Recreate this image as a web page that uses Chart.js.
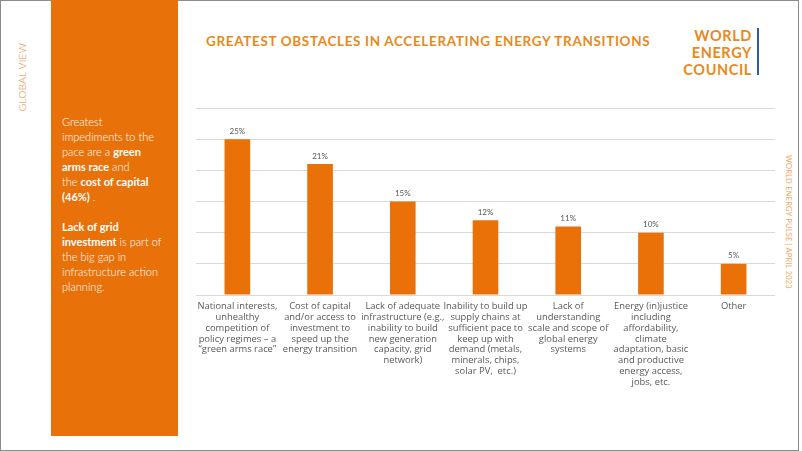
<!DOCTYPE html>
<html>
<head>
<meta charset="utf-8">
<script src="https://cdn.jsdelivr.net/npm/chart.js@4.4.0/dist/chart.umd.min.js"></script>
<style>
  html, body { margin: 0; padding: 0; background: #fff; }
  body { width: 802px; height: 451px; position: relative; overflow: hidden; font-family: Lato, "Open Sans", sans-serif; }
  #frame { position: absolute; left: 0; top: 0; width: 797px; height: 449px; border: 1px solid #8c8c8c; }
  #panel { position: absolute; left: 51px; top: 0; width: 127px; height: 436px; background: #E8710A; }
  #panelText { position: absolute; left: 62px; top: 114px; width: 114px; color: #fff; font-size: 11px; line-height: 15px; font-weight: 300; }
  #panelText b { font-weight: 700; }
  #globalView { position: absolute; left: 22px; top: 77px; transform: translate(-50%, -50%) rotate(-90deg); color: #E8862E; font-size: 10px; letter-spacing: 0.3px; white-space: nowrap; font-weight: 300; }
  #title { position: absolute; left: 206px; top: 33px; color: #E8891C; font-weight: 700; font-size: 13.5px; letter-spacing: 0.65px; white-space: nowrap; }
  #logo { position: absolute; right: 50px; top: 27px; text-align: right; color: #E8891C; font-weight: 700; font-size: 14.5px; line-height: 17px; letter-spacing: 0.6px; }
  #logoBar { position: absolute; left: 757px; top: 28px; width: 2px; height: 47px; background: #2F5E98; }
  #pulse { position: absolute; left: 788px; top: 222px; transform: translate(-50%, -50%) rotate(90deg); color: #F0A860; font-size: 7.5px; letter-spacing: 0.2px; white-space: nowrap; }
  #chartBox { position: absolute; left: 180px; top: 90px; width: 610px; height: 320px; }
</style>
</head>
<body>
<div id="frame"></div>
<div id="globalView">GLOBAL VIEW</div>
<div id="panel"></div>
<div id="panelText">
  Greatest<br>impediments to the<br>pace are a <b>green</b><br><b>arms race</b> and<br>the <b>cost of capital</b><br><b>(46%)</b> .<br><br><b>Lack of grid</b><br><b>investment</b> is part of<br>the big gap in<br>infrastructure action<br>planning.
</div>
<div id="title">GREATEST OBSTACLES IN ACCELERATING ENERGY TRANSITIONS</div>
<div id="logo">WORLD<br>ENERGY<br>COUNCIL</div>
<div id="logoBar"></div>
<div id="pulse">WORLD ENERGY PULSE | APRIL 2023</div>
<div id="chartBox"><canvas id="myChart" width="610" height="320"></canvas></div>

<script>
const categories = [
  ["National interests,", "unhealthy", "competition of", "policy regimes – a", "\u201Cgreen arms race\u201D"],
  ["Cost of capital", "and/or access to", "investment to", "speed up the", "energy transition"],
  ["Lack of adequate", "infrastructure (e.g.,", "inability to build", "new generation", "capacity, grid", "network)"],
  ["Inability to build up", "supply chains at", "sufficient pace to", "keep up with", "demand (metals,", "minerals, chips,", "solar PV,  etc.)"],
  ["Lack of", "understanding", "scale and scope of", "global energy", "systems"],
  ["Energy (in)justice", "including", "affordability,", "climate", "adaptation, basic", "and productive", "energy access,", "jobs, etc."],
  ["Other"]
];
const shares = [25, 21, 15, 12, 11, 10, 5];
const yTicks = [0, 5, 10, 15, 20, 25, 30];

// draws the "25%" style labels above each bar
const barLabels = {
  id: "barLabels",
  afterDatasetsDraw(chart) {
    const ctx = chart.ctx;
    const meta = chart.getDatasetMeta(0);
    ctx.save();
    ctx.fillStyle = "#595959";
    ctx.font = "8px Lato, sans-serif";
    ctx.textAlign = "center";
    ctx.textBaseline = "bottom";
    meta.data.forEach((bar, i) => {
      ctx.fillText(shares[i] + "%", bar.x, bar.y - 4);
    });
    ctx.restore();
  }
};

const ctx = document.getElementById("myChart").getContext("2d");
new Chart(ctx, {
  type: "bar",
  data: {
    labels: categories,
    datasets: [{
      data: shares,
      backgroundColor: "#EA7108",
      barPercentage: 0.62,
      categoryPercentage: 0.5
    }]
  },
  options: {
    responsive: false,
    animation: false,
    layout: { padding: { left: 16, right: 15, top: 18, bottom: 0 } },
    plugins: { legend: { display: false }, tooltip: { enabled: false } },
    scales: {
      x: {
        grid: { display: false },
        border: { display: false },
        ticks: {
          color: "#595959",
          font: { family: "'Open Sans', sans-serif", size: 9.4, lineHeight: 1.15 },
          padding: -2,
          maxRotation: 0,
          autoSkip: false
        },
        afterFit: (s) => { s.height = 115; }
      },
      y: {
        min: 0,
        max: 30,
        afterBuildTicks: (s) => { s.ticks = yTicks.map(v => ({ value: v })); },
        grid: { color: "#D9D9D9", lineWidth: 1, drawTicks: false },
        border: { display: false },
        ticks: { display: false },
        afterFit: (s) => { s.width = 0; }
      }
    }
  },
  plugins: [barLabels]
});
</script>
</body>
</html>
